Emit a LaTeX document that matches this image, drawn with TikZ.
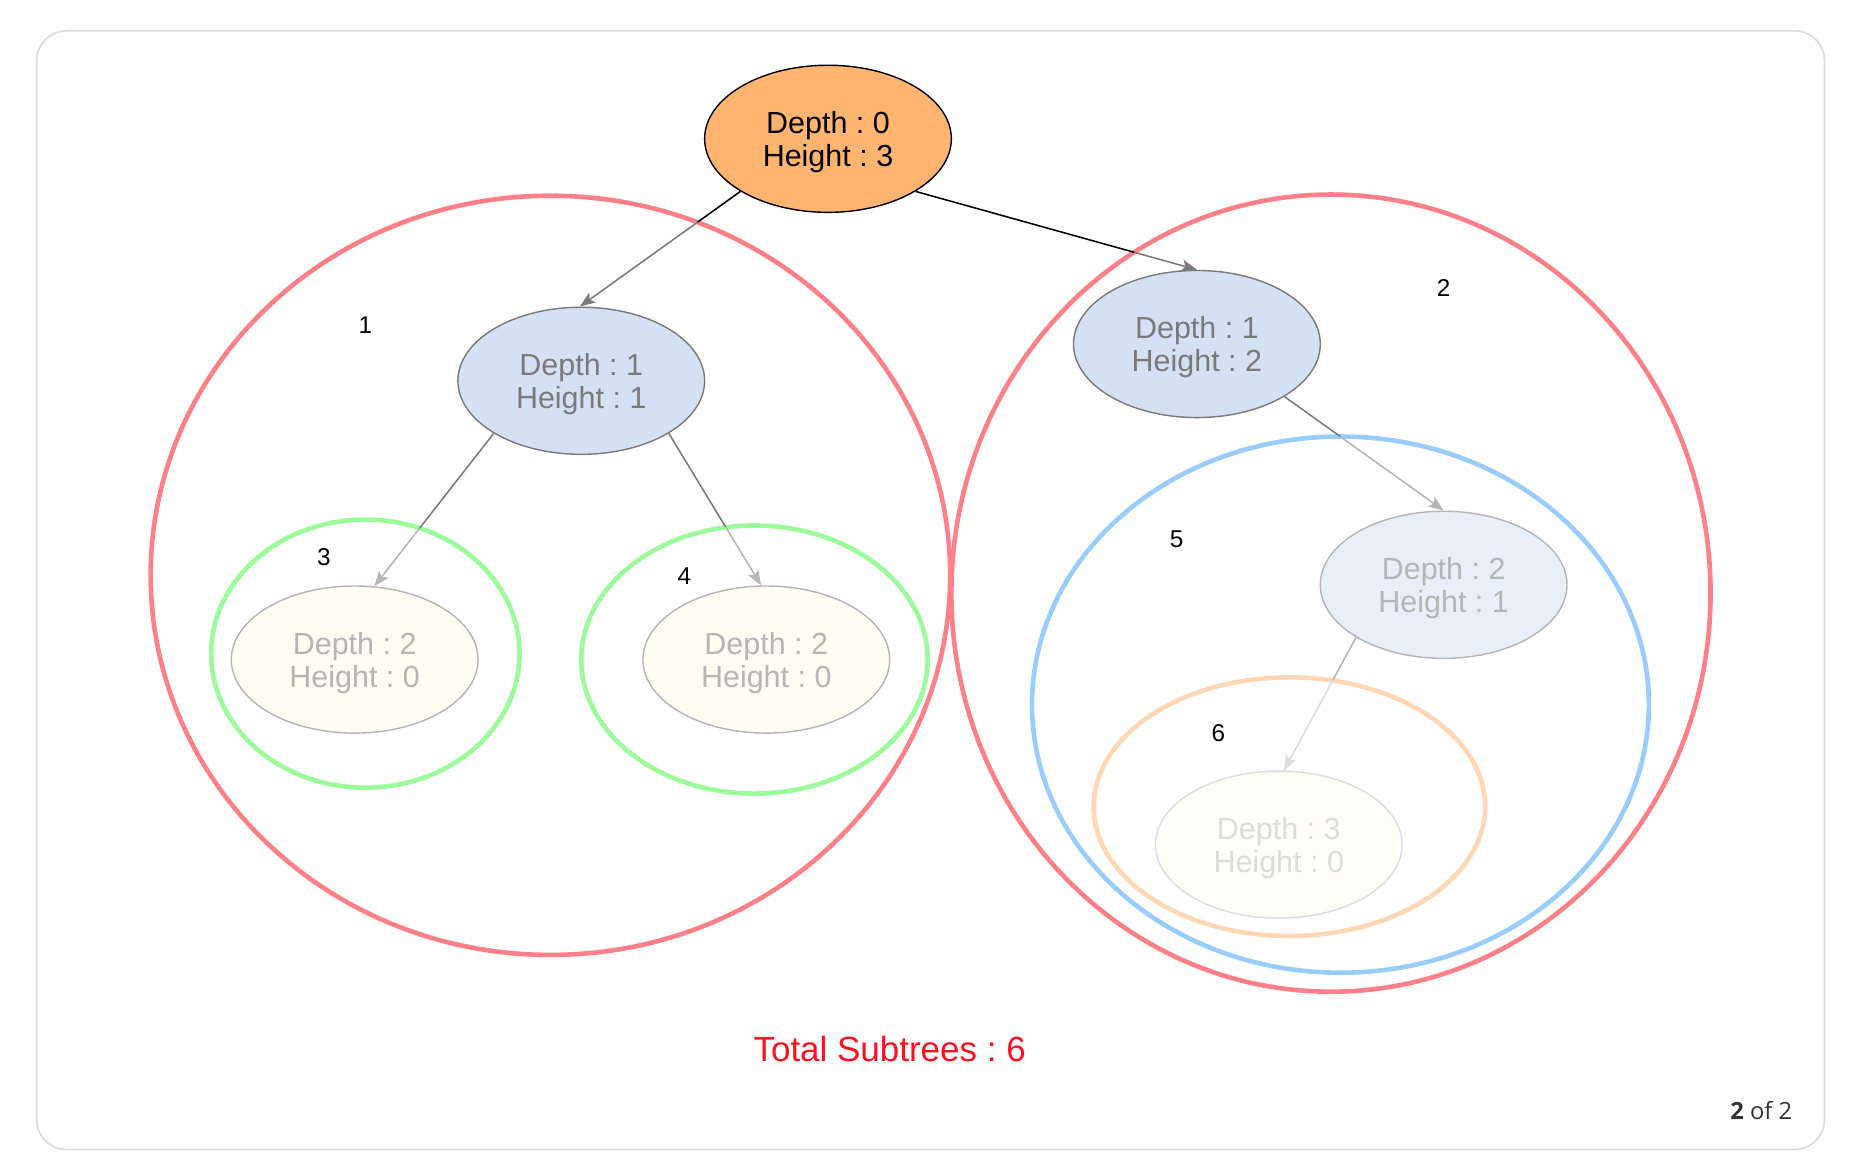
\documentclass[tikz,border=0pt]{standalone}
\usepackage{fontspec}
\setmainfont{Liberation Sans}
\newfontfamily\pagefont{Open Sans}
\usetikzlibrary{arrows.meta,intersections,shapes.geometric}
\frenchspacing
\definecolor{rootfill}{HTML}{FFB570}
\definecolor{bluefill}{HTML}{D4E1F5}
\definecolor{paleblue}{HTML}{E9EFF9}
\definecolor{creamfill}{HTML}{FFFCF2}
\definecolor{palecream}{HTML}{FFFDF8}
\definecolor{grayA}{HTML}{7A7A7A}
\definecolor{grayB}{HTML}{B5B5B5}
\definecolor{grayC}{HTML}{DCDCDC}
\definecolor{ringred}{HTML}{FF8088}
\definecolor{ringgreen}{HTML}{9CFC9C}
\definecolor{ringblue}{HTML}{99CCFF}
\definecolor{ringorange}{HTML}{FFD7B5}
\definecolor{totalred}{HTML}{FF1020}
\definecolor{framegray}{HTML}{DDDDDD}
\definecolor{pagetext}{HTML}{333333}
\newcommand\tp{\rule{0pt}{24.5pt}}
\newcommand\fadeedge[6]{%
  \path[name path=ln#6] (#1) -- (#2);
  \path[name intersections={of=#3 and ln#6, by=cx#6}];
  \draw[edgeline, #4] (#1) -- (cx#6);
  \draw[edgeline, #5, -{Stealth[length=13pt, width=10pt, inset=3pt]}] (cx#6) -- (#2);
}
\begin{document}
\begin{tikzpicture}[x=1pt, y=-1pt,
  treenode/.style={ellipse, minimum width=208pt, minimum height=124pt, inner sep=0pt,
    align=center, font=\fontsize{25.7}{28}\selectfont, line width=1.2pt},
  ring/.style={line width=3.9pt},
  edgeline/.style={line width=1.3pt},
  numlabel/.style={font=\fontsize{20.5}{22}\selectfont, text=black, inner sep=0pt}]
\useasboundingbox (0,0) rectangle (1568,988);
\draw[framegray, line width=1.5pt, rounded corners=25pt] (31,26) rectangle (1538,969);

% rings
\draw[ring, ringred, name path=r1] (464,485) ellipse [x radius=337, y radius=320];
\draw[ring, ringred, name path=r2] (1122,500) ellipse [x radius=320, y radius=336];
\draw[ring, ringblue, name path=r5] (1130,594) ellipse [x radius=260, y radius=226];
\draw[ring, ringorange, name path=r6] (1087,680) ellipse [x radius=165, y radius=109];
\draw[ring, ringgreen, name path=r3] (308,551) ellipse [x radius=130, y radius=113];
\draw[ring, ringgreen, name path=r4] (636,556) ellipse [x radius=146, y radius=113];

% nodes
\node[treenode, draw=black, fill=rootfill, text=black] (root) at (698,117) {\tp Depth : 0\\Height : 3};
\node[treenode, draw=grayA, fill=bluefill, text=grayA] (L1) at (490,321) {\tp Depth : 1\\Height : 1};
\node[treenode, draw=grayA, fill=bluefill, text=grayA] (R1) at (1009,290) {\tp Depth : 1\\Height : 2};
\node[treenode, draw=grayB, fill=creamfill, text=grayB] (L2a) at (299,556) {\tp Depth : 2\\Height : 0};
\node[treenode, draw=grayB, fill=creamfill, text=grayB] (L2b) at (646,556) {\tp Depth : 2\\Height : 0};
\node[treenode, draw=grayB, fill=paleblue, text=grayB] (R2) at (1217,493) {\tp Depth : 2\\Height : 1};
\node[treenode, draw=grayC, fill=palecream, text=grayC] (R3) at (1078,712) {\tp Depth : 3\\Height : 0};

% edges
\fadeedge{root.211}{L1.91}{r1}{black}{grayA}{a}
\fadeedge{root.329}{R1.north}{r2}{black}{grayA}{b}
\fadeedge{L1.211}{L2a.75}{r3}{grayA}{grayB}{c}
\fadeedge{L1.329}{L2b.94}{r4}{grayA}{grayB}{d}
\fadeedge{R1.329}{R2.north}{r5}{grayA}{grayB}{e}
\fadeedge{R2.211}{R3.86}{r6}{grayB}{grayC}{f}

% labels
\node[numlabel] (n1) at (308,274) {1};
\node[numlabel] (n2) at (1217,243) {2};
\node[numlabel] (n3) at (273,470) {3};
\node[numlabel] (n4) at (577,486) {4};
\node[numlabel] (n5) at (992,455) {5};
\node[numlabel] (n6) at (1027,618) {6};

\node[font=\fontsize{29.5}{31}\selectfont, text=totalred, inner sep=0pt] (total) at (750,884) {Total Subtrees : 6};
\node[anchor=base east, font=\pagefont\fontsize{20}{22}\selectfont, text=pagetext, inner sep=0pt] (page) at (1511,944) {\textbf{2} of 2};
\end{tikzpicture}
\end{document}
